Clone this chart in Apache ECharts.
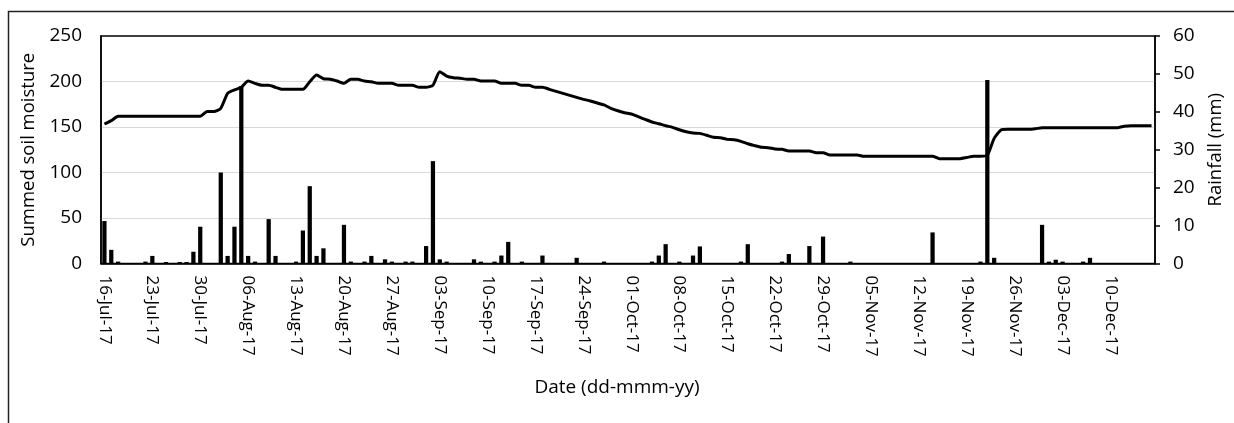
<!DOCTYPE html>
<html>
<head>
<meta charset="utf-8">
<script src="https://cdn.jsdelivr.net/npm/echarts@6/dist/echarts.min.js"></script>
<style>
  html, body { margin: 0; padding: 0; background: #fff; }
  #chart { width: 1234px; height: 423px; }
</style>
</head>
<body>
<div id="chart"></div>
<script>
// Categories: daily dates 16-Jul-17 .. 16-Dec-17
const categories = [
  "16-Jul-17","17-Jul-17","18-Jul-17","19-Jul-17","20-Jul-17","21-Jul-17","22-Jul-17","23-Jul-17","24-Jul-17","25-Jul-17",
  "26-Jul-17","27-Jul-17","28-Jul-17","29-Jul-17","30-Jul-17","31-Jul-17",
  "01-Aug-17","02-Aug-17","03-Aug-17","04-Aug-17","05-Aug-17","06-Aug-17","07-Aug-17","08-Aug-17","09-Aug-17","10-Aug-17",
  "11-Aug-17","12-Aug-17","13-Aug-17","14-Aug-17","15-Aug-17","16-Aug-17","17-Aug-17","18-Aug-17","19-Aug-17","20-Aug-17",
  "21-Aug-17","22-Aug-17","23-Aug-17","24-Aug-17","25-Aug-17","26-Aug-17","27-Aug-17","28-Aug-17","29-Aug-17","30-Aug-17","31-Aug-17",
  "01-Sep-17","02-Sep-17","03-Sep-17","04-Sep-17","05-Sep-17","06-Sep-17","07-Sep-17","08-Sep-17","09-Sep-17","10-Sep-17",
  "11-Sep-17","12-Sep-17","13-Sep-17","14-Sep-17","15-Sep-17","16-Sep-17","17-Sep-17","18-Sep-17","19-Sep-17","20-Sep-17",
  "21-Sep-17","22-Sep-17","23-Sep-17","24-Sep-17","25-Sep-17","26-Sep-17","27-Sep-17","28-Sep-17","29-Sep-17","30-Sep-17",
  "01-Oct-17","02-Oct-17","03-Oct-17","04-Oct-17","05-Oct-17","06-Oct-17","07-Oct-17","08-Oct-17","09-Oct-17","10-Oct-17",
  "11-Oct-17","12-Oct-17","13-Oct-17","14-Oct-17","15-Oct-17","16-Oct-17","17-Oct-17","18-Oct-17","19-Oct-17","20-Oct-17",
  "21-Oct-17","22-Oct-17","23-Oct-17","24-Oct-17","25-Oct-17","26-Oct-17","27-Oct-17","28-Oct-17","29-Oct-17","30-Oct-17","31-Oct-17",
  "01-Nov-17","02-Nov-17","03-Nov-17","04-Nov-17","05-Nov-17","06-Nov-17","07-Nov-17","08-Nov-17","09-Nov-17","10-Nov-17",
  "11-Nov-17","12-Nov-17","13-Nov-17","14-Nov-17","15-Nov-17","16-Nov-17","17-Nov-17","18-Nov-17","19-Nov-17","20-Nov-17",
  "21-Nov-17","22-Nov-17","23-Nov-17","24-Nov-17","25-Nov-17","26-Nov-17","27-Nov-17","28-Nov-17","29-Nov-17","30-Nov-17",
  "01-Dec-17","02-Dec-17","03-Dec-17","04-Dec-17","05-Dec-17","06-Dec-17","07-Dec-17","08-Dec-17","09-Dec-17","10-Dec-17",
  "11-Dec-17","12-Dec-17","13-Dec-17","14-Dec-17","15-Dec-17","16-Dec-17"
];

// Summed soil moisture (left axis)
const soilMoisture = [
  153.3, 157, 161.7, 161.7, 161.7, 161.7, 161.7, 161.7, 161.7, 161.7,
  161.7, 161.7, 161.7, 161.7, 161.7, 167, 167, 170.5, 187, 190.7,
  193.6, 200.5, 198, 195.8, 195.8, 193.6, 191.4, 191.4, 191.4, 191.4,
  199.8, 207.1, 203, 202.5, 200.5, 198, 202.5, 202.5, 200.5, 199.8,
  198, 198, 198, 195.8, 195.8, 195.8, 193.6, 193.6, 196, 210.8,
  206, 204.2, 203.5, 202.5, 202.5, 200.5, 200.5, 200.5, 198, 198,
  198, 195.8, 195.8, 193.6, 193.6, 191.4, 189.2, 187, 184.8, 182.6,
  180.4, 178.6, 176.4, 174.2, 170.5, 167.9, 165.7, 164.3, 161.3, 158.4,
  155.5, 153.6, 151.4, 149.6, 147, 144.8, 143.4, 143, 140.9, 138.7,
  138.3, 136.4, 136, 134.2, 131.6, 129.5, 127.7, 127.3, 125.8, 125.5,
  123.6, 123.6, 123.6, 123.6, 121.8, 121.8, 119.2, 119.2, 119.2, 119.2,
  119.2, 117.8, 117.8, 117.8, 117.8, 117.8, 117.8, 117.8, 117.8, 117.8,
  117.8, 117.8, 115.2, 115.2, 115.2, 115.2, 116.5, 117.8, 117.8, 119,
  137.5, 146.7, 147.4, 147.4, 147.4, 147.4, 148, 149.2, 149.2, 149.2,
  149.2, 149.2, 149.2, 149.2, 149.2, 149.2, 149.2, 149.2, 149.2, 150.9,
  151.5, 151.5, 151.5, 151.5
];

// Rainfall in mm (right axis)
const rainfall = [
  11.2, 3.6, 0.5, 0, 0, 0, 0.5, 2.0, 0, 0.4,
  0, 0.4, 0.4, 3.1, 9.7, 0, 0, 24, 2.0, 9.7,
  46.8, 2.0, 0.5, 0, 11.7, 2.0, 0, 0, 0.5, 8.7,
  20.4, 2.0, 4.0, 0, 0, 10.2, 0.5, 0, 0.5, 2.0,
  0, 1.1, 0.5, 0, 0.5, 0.5, 0, 4.6, 27, 1.1,
  0.5, 0, 0, 0, 1.1, 0.5, 0, 0.5, 2.1, 5.7,
  0, 0.5, 0, 0, 2.1, 0, 0, 0, 0, 1.5,
  0, 0, 0, 0.5, 0, 0, 0, 0, 0, 0,
  0.5, 2.1, 5.1, 0, 0.5, 0, 2.1, 4.5, 0, 0,
  0, 0, 0, 0.5, 5.1, 0, 0, 0, 0, 0.5,
  2.5, 0, 0, 4.6, 0, 7.1, 0, 0, 0, 0.5,
  0, 0, 0, 0, 0, 0, 0, 0, 0, 0,
  0, 8.2, 0, 0, 0, 0, 0, 0, 0.5, 48.4,
  1.5, 0, 0, 0, 0, 0, 0, 10.2, 0.5, 1.0,
  0.5, 0, 0, 0.5, 1.5, 0, 0, 0, 0, 0,
  0, 0, 0, 0
];

const leftAxisRange = [0, 250, 50];   // min, max, interval
const rightAxisRange = [0, 60, 10];

const FONT = "'Open Sans', 'Noto Sans', sans-serif";

const chart = echarts.init(document.getElementById('chart'), null, { renderer: 'canvas' });
chart.setOption({
  animation: false,
  backgroundColor: '#ffffff',
  textStyle: { fontFamily: FONT, color: '#000' },
  grid: {
    left: 101, right: 79, top: 36, bottom: 159.5,
    show: true, borderColor: '#000', borderWidth: 1.5, backgroundColor: 'transparent'
  },
  xAxis: {
    type: 'category',
    data: categories,
    boundaryGap: true,
    axisLine: { show: true, lineStyle: { color: '#000', width: 1.5 } },
    axisTick: { show: false },
    axisLabel: { interval: 6, rotate: -90, margin: 12, fontSize: 17, color: '#000', fontFamily: FONT },
    splitLine: { show: false },
    name: 'Date (dd-mmm-yy)',
    nameLocation: 'middle',
    nameGap: 115,
    nameTextStyle: { fontSize: 19, color: '#000', fontFamily: FONT, padding: [0, 22, 0, 0] }
  },
  yAxis: [
    {
      type: 'value',
      min: leftAxisRange[0], max: leftAxisRange[1], interval: leftAxisRange[2],
      axisLine: { show: true, lineStyle: { color: '#000', width: 1.5 } },
      axisTick: { show: false },
      axisLabel: { margin: 19, fontSize: 19, color: '#000', fontFamily: FONT },
      splitLine: { show: true, showMinLine: false, showMaxLine: false, lineStyle: { color: '#d9d9d9', width: 1 } },
      name: 'Summed soil moisture',
      nameLocation: 'middle',
      nameRotate: 90,
      nameGap: 61,
      nameTextStyle: { fontSize: 18.5, color: '#000', fontFamily: FONT }
    },
    {
      type: 'value',
      position: 'right',
      min: rightAxisRange[0], max: rightAxisRange[1], interval: rightAxisRange[2],
      axisLine: { show: true, lineStyle: { color: '#000', width: 1.5 } },
      axisTick: { show: true, inside: false, length: 5, lineStyle: { color: '#000', width: 1.5 } },
      axisLabel: { margin: 18, fontSize: 19, color: '#000', fontFamily: FONT },
      splitLine: { show: false },
      name: 'Rainfall (mm)',
      nameLocation: 'middle',
      nameRotate: 90,
      nameGap: 51,
      nameTextStyle: { fontSize: 18.5, color: '#000', fontFamily: FONT }
    }
  ],
  series: [
    {
      name: 'Rainfall',
      type: 'bar',
      yAxisIndex: 1,
      data: rainfall,
      barWidth: '62%',
      itemStyle: { color: '#000' }
    },
    {
      name: 'Summed soil moisture',
      type: 'line',
      yAxisIndex: 0,
      data: soilMoisture,
      symbol: 'none',
      showSymbol: false,
      smooth: 0.2,
      lineStyle: { color: '#000', width: 3 }
    }
  ],
  graphic: [
    {
      type: 'rect',
      silent: true,
      z: -1,
      shape: { x: 8.5, y: 11.5, width: 1300, height: 600 },
      style: { fill: 'transparent', stroke: '#222', lineWidth: 1.5 }
    }
  ]
});
</script>
</body>
</html>
